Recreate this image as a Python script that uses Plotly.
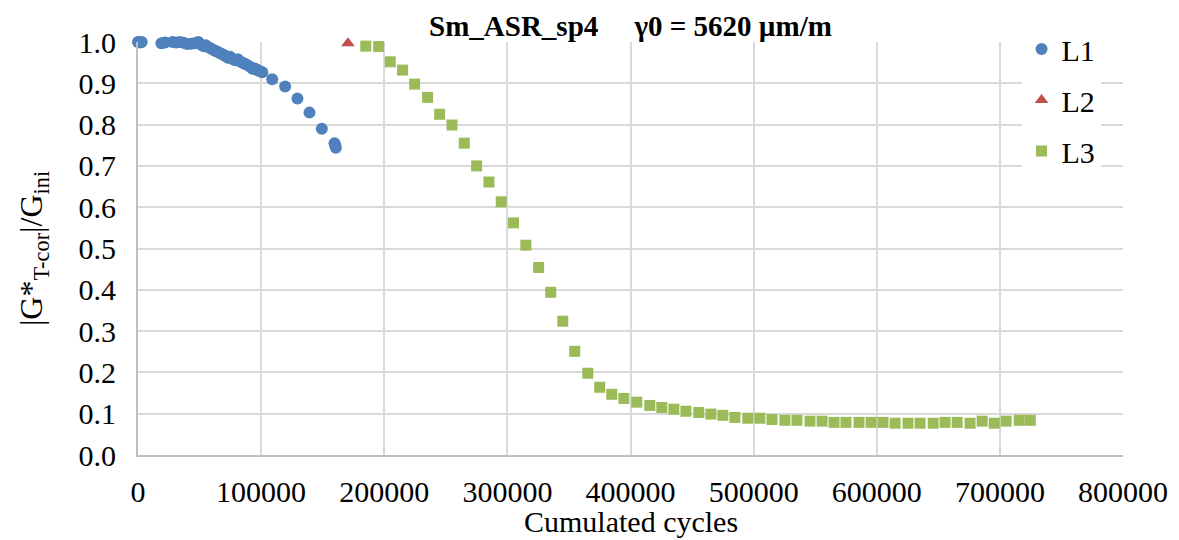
import plotly.graph_objects as go

# L1 data
l1_x = [0, 1000, 2000, 3000, 19000, 22000, 25000, 28000, 31000, 34000, 37000, 40000,
        43000, 46000, 49000, 51000, 53000, 55000, 57000, 59000, 61000, 63000, 65000,
        67000, 69000, 71000, 73000, 75000, 77000, 79000, 81000, 83000, 85000, 87000,
        89000, 91000, 93000, 95000, 97000, 99000, 101000, 109000, 119500, 129500,
        139300, 149300, 159600, 160200, 160700]
l1_y = [1.000, 1.000, 0.999, 1.000, 0.997, 0.999, 1.002, 1.000, 0.999, 1.000, 0.998, 0.995,
        0.996, 0.997, 1.000, 0.994, 0.990, 0.992, 0.987, 0.985, 0.981, 0.978, 0.976,
        0.972, 0.970, 0.966, 0.962, 0.964, 0.958, 0.956, 0.958, 0.953, 0.950, 0.947,
        0.944, 0.940, 0.935, 0.936, 0.932, 0.929, 0.927, 0.910, 0.892, 0.863,
        0.829, 0.790, 0.755, 0.750, 0.744]

# L2 data
l2_x = [170500]
l2_y = [0.997]

# L3 data
l3_x = [185000, 195400, 204900, 214900, 224700, 235200, 245000, 255000, 265000, 275000,
        285000, 295000, 305000, 315000, 325400, 335200, 345000, 354700, 365300, 375000,
        384800, 394600, 405100, 415700, 425400, 435200, 445000, 455500, 465300, 475000,
        484800, 495300, 505100, 514900, 525400, 535200, 545800, 555600, 565300, 575000,
        585600, 595400, 605100, 614900, 625400, 635200, 645800, 655500, 665300, 675800,
        685600, 695400, 705100, 715700, 724700]
l3_y = [0.990, 0.989, 0.952, 0.932, 0.898, 0.866, 0.825, 0.799, 0.755, 0.700,
        0.661, 0.613, 0.562, 0.508, 0.454, 0.394, 0.324, 0.251, 0.198, 0.164,
        0.147, 0.137, 0.128, 0.120, 0.115, 0.111, 0.106, 0.103, 0.099, 0.096,
        0.091, 0.089, 0.089, 0.086, 0.084, 0.084, 0.082, 0.082, 0.079, 0.079,
        0.079, 0.079, 0.079, 0.077, 0.077, 0.077, 0.077, 0.079, 0.079, 0.077,
        0.082, 0.077, 0.082, 0.084, 0.084]

FONT = "Liberation Serif, serif"

fig = go.Figure()
fig.add_trace(go.Scatter(x=l1_x, y=l1_y, mode="markers", name="L1", legendgroup="a",
                         marker=dict(symbol="circle", size=12, color="#4f81bd"),
                         cliponaxis=False))
fig.add_trace(go.Scatter(x=l2_x, y=l2_y, mode="markers", name="L2", legendgroup="b",
                         marker=dict(symbol="triangle-up", size=12, color="#c0504d"),
                         cliponaxis=False))
fig.add_trace(go.Scatter(x=l3_x, y=l3_y, mode="markers", name="L3", legendgroup="c",
                         marker=dict(symbol="square", size=11, color="#9bbb59"),
                         cliponaxis=False))

fig.update_layout(
    width=1171, height=532,
    margin=dict(l=130, r=56, t=34, b=85, autoexpand=False),
    paper_bgcolor="white", plot_bgcolor="white",
    font=dict(family=FONT, size=30, color="black"),
    title=dict(text="<b>Sm_ASR_sp4\u00a0\u00a0\u00a0\u00a0\u00a0γ0 = 5620 µm/m</b>",
               x=0.5, xref="paper", xanchor="center", y=0.967, yref="container",
               yanchor="middle", font=dict(family=FONT, size=29)),
    showlegend=True,
    legend=dict(x=0.897, y=1.046, xanchor="left", yanchor="top", bgcolor="white",
                font=dict(family=FONT, size=30), tracegroupgap=9,
                itemsizing="trace"),
    annotations=[
        dict(text="Cumulated cycles", xref="paper", yref="paper", x=0.5, y=-0.16,
             xanchor="center", yanchor="middle", showarrow=False,
             font=dict(family=FONT, size=30)),
        dict(text="|G*<sub>T-cor</sub>|/G<sub>ini</sub>", xref="paper", yref="paper",
             x=-0.106, y=0.5, xanchor="center", yanchor="middle", showarrow=False,
             textangle=-90, font=dict(family=FONT, size=32)),
    ],
)
fig.update_xaxes(range=[0, 800000], dtick=100000, tick0=0, tickformat="d",
                 tickfont=dict(family=FONT, size=30),
                 showgrid=True, gridcolor="#d9d9d9", gridwidth=1.5,
                 showline=True, linecolor="#bfbfbf", linewidth=2,
                 zeroline=False, ticks="", ticklabelstandoff=9)
fig.update_yaxes(range=[0, 1.0], dtick=0.1, tick0=0, tickformat=".1f",
                 tickfont=dict(family=FONT, size=30),
                 showgrid=True, gridcolor="#d9d9d9", gridwidth=1.5,
                 showline=True, linecolor="#bfbfbf", linewidth=2,
                 zeroline=False, ticks="", ticklabelstandoff=14)

fig.write_html("out.html")
